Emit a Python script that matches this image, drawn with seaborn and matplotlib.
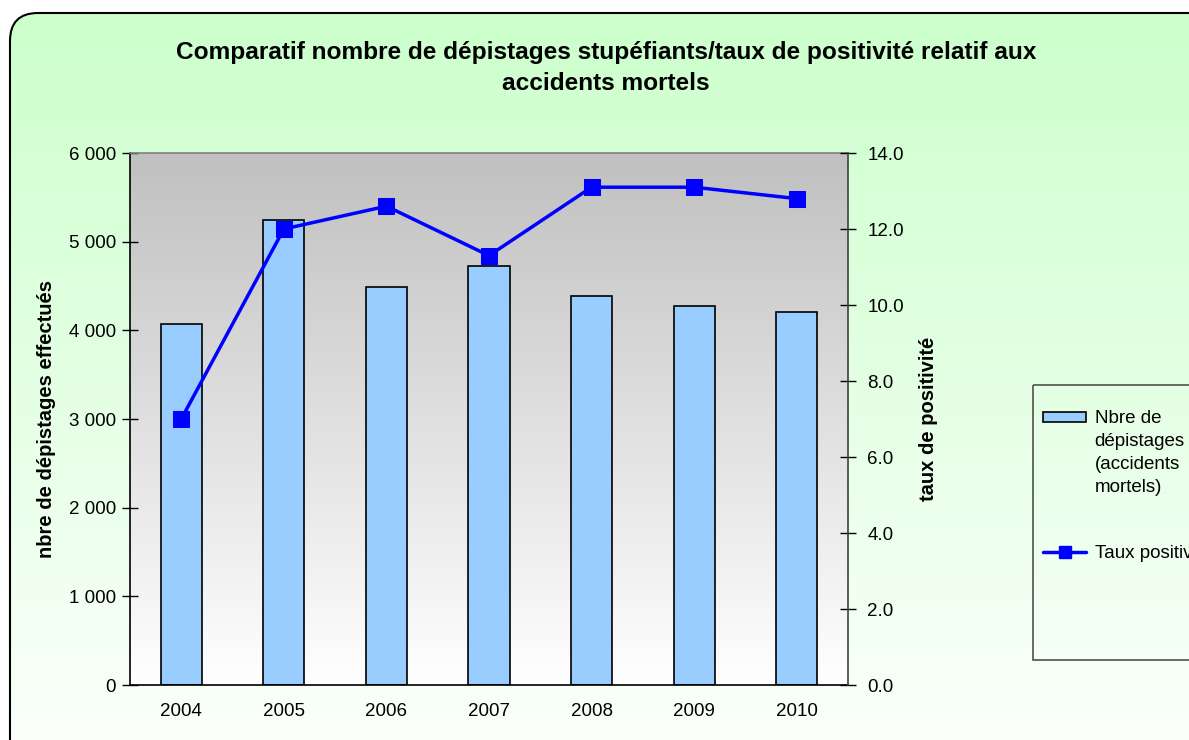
import numpy as np
import matplotlib
matplotlib.use("Agg")
import matplotlib.pyplot as plt
import matplotlib.patches as mpatches
from matplotlib.lines import Line2D
from matplotlib.legend_handler import HandlerPatch
from matplotlib.ticker import FuncFormatter
import seaborn as sns

# data
years = ["2004", "2005", "2006", "2007", "2008", "2009", "2010"]
nb_depistages = [4070, 5240, 4490, 4720, 4390, 4270, 4210]
taux_positivite = [7.0, 12.0, 12.6, 11.3, 13.1, 13.1, 12.8]

title_lines = ["Comparatif nombre de dépistages stupéfiants/taux de positivité relatif aux",
               "accidents mortels"]
bar_label = "Nbre de\ndépistages\n(accidents\nmortels)"
line_label = "Taux positivité"

BAR_BLUE = "#99CCFF"
LINE_BLUE = "#0000FF"
W, H = 1189, 740

sns.set_theme(style="white")
plt.rcParams["font.family"] = ["Liberation Sans", "DejaVu Sans"]
plt.rcParams.update({"text.color": "black", "axes.labelcolor": "black",
                     "xtick.color": "black", "ytick.color": "black"})

fig = plt.figure(figsize=(W / 100, H / 100), dpi=100)
fig.patch.set_facecolor("white")

# green gradient background inside a rounded frame
bg = fig.add_axes([0, 0, 1, 1], zorder=-10)
bg.set_xlim(0, W)
bg.set_ylim(H, 0)
bg.axis("off")
t = np.linspace(0, 1, 256)[:, None]
top_c = np.array([204, 255, 204]) / 255
bot_c = np.array([252, 255, 252]) / 255
grad = top_c[None, None, :] * (1 - t[..., None]) + bot_c[None, None, :] * t[..., None]
img = bg.imshow(grad, extent=[0, W, H + 20, 13], aspect="auto", zorder=0)
frame = mpatches.FancyBboxPatch((10, 13), 1400, 900, boxstyle="round,pad=0,rounding_size=28",
                                facecolor="none", edgecolor="black", lw=1.5, zorder=2)
bg.add_patch(frame)
img.set_clip_path(frame)

# plot area
pos = [130 / W, 1 - 685 / H, (848 - 130) / W, (685 - 153) / H]
pa = fig.add_axes(pos, zorder=-5)
g2 = np.linspace(192, 255, 256)[:, None] / 255
pa.imshow(np.dstack([g2, g2, g2]), extent=[0, 1, 0, 1], aspect="auto")
pa.axis("off")

ax = fig.add_axes(pos, zorder=1)
ax.patch.set_visible(False)
sns.barplot(x=years, y=nb_depistages, color=BAR_BLUE, saturation=1, edgecolor="black",
            linewidth=1.2, width=0.4, ax=ax)
ax.set_ylim(0, 6000)
ax.set_yticks(np.arange(0, 6001, 1000))
ax.yaxis.set_major_formatter(FuncFormatter(lambda v, p: f"{int(v):,}".replace(",", " ")))
ax.set_xlim(-0.5, len(years) - 0.5)
ax.set_xticks(range(len(years)))
ax.set_xticklabels(years)
ax.set_xticks(np.arange(-0.5, len(years), 1), minor=True)
ax.tick_params(axis="x", which="major", length=0, pad=13, labelsize=13.5)
ax.tick_params(axis="x", which="minor", direction="inout", length=13, width=1, color="black")
ax.tick_params(axis="y", direction="inout", length=12, width=1, color="black", pad=4, labelsize=13.5, left=True)
ax.set_xlabel("")
ax.set_ylabel("nbre de dépistages effectués", fontsize=14.5, fontweight="bold", labelpad=9)
for s in ["left", "bottom"]:
    ax.spines[s].set_color("black")
    ax.spines[s].set_linewidth(1.2)
ax.spines["top"].set_color("#808080")
ax.spines["top"].set_linewidth(1.2)
ax.spines["right"].set_visible(False)

ax2 = ax.twinx()
ax2.set_zorder(2)
sns.lineplot(x=np.arange(len(years)), y=taux_positivite, ax=ax2, color=LINE_BLUE,
             linewidth=2.5, marker="s", markersize=11, markeredgecolor=LINE_BLUE)
ax2.set_ylim(0, 14)
ax2.set_yticks(np.arange(0, 14.1, 2))
ax2.yaxis.set_major_formatter(FuncFormatter(lambda v, p: f"{v:.1f}"))
ax2.tick_params(axis="y", direction="inout", length=12, width=1, color="black", pad=8, labelsize=13.5, right=True)
ax2.set_ylabel("taux de positivité", fontsize=14.5, fontweight="bold", labelpad=11)
for s in ["left", "top", "bottom"]:
    ax2.spines[s].set_visible(False)
ax2.spines["right"].set_color("#404040")
ax2.spines["right"].set_linewidth(1.2)
ax2.set_xlim(-0.5, len(years) - 0.5)

# title
fig.text(606 / W, 1 - 52 / H, title_lines[0], ha="center", va="center", fontsize=17.6, fontweight="bold")
fig.text(606 / W, 1 - 83 / H, title_lines[1], ha="center", va="center", fontsize=17.6, fontweight="bold")

# legend (box runs off the right edge, as in the original)
leg_box = mpatches.Rectangle((1033, 385), 300, 275, facecolor="none", edgecolor="#505050", lw=1.2, zorder=3)
bg.add_patch(leg_box)


def swatch_up(legend, orig_handle, xdescent, ydescent, width, height, fontsize):
    return mpatches.Rectangle((-xdescent, -ydescent + 1.5 * 1.28 * fontsize), width, height)


bar_handle = mpatches.Patch(facecolor=BAR_BLUE, edgecolor="black", linewidth=1.2)
line_handle = Line2D([], [], color=LINE_BLUE, lw=2.5, marker="s", markersize=9)
leg = fig.legend([bar_handle, line_handle], [bar_label, line_label], loc="upper left",
                 bbox_to_anchor=(1043 / W, 1 - 410 / H), frameon=False, fontsize=13.5,
                 handlelength=2.3, handleheight=0.5, handletextpad=0.45, labelspacing=2.6,
                 borderpad=0, borderaxespad=0,
                 handler_map={mpatches.Patch: HandlerPatch(patch_func=swatch_up)})
for txt in leg.get_texts():
    txt.set_linespacing(1.47)

fig.savefig("out.png", dpi=100)
